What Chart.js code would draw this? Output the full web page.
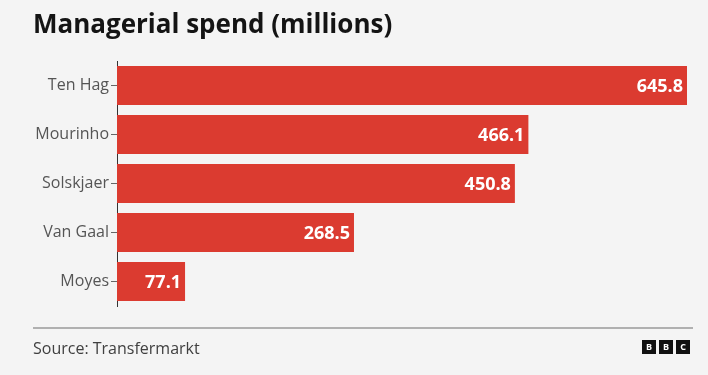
<!DOCTYPE html>
<html>
<head>
<meta charset="utf-8">
<script src="https://cdn.jsdelivr.net/npm/chart.js@4"></script>
<style>
  html,body{margin:0;padding:0;background:#f4f4f4;}
  #wrap{position:relative;width:708px;height:375px;overflow:hidden;background:#f4f4f4;font-family:"Open Sans",sans-serif;}
  #title{position:absolute;left:33px;top:5px;font-size:26px;font-weight:700;color:#141414;white-space:nowrap;}
  #rule{position:absolute;left:33px;top:327px;width:660px;height:0;border-top:2px solid #b0b0b0;}
  #source{position:absolute;left:33px;top:337px;font-size:16px;color:#404040;white-space:nowrap;}
  #logo{position:absolute;left:642px;top:340px;display:flex;gap:3px;}
  #logo span{display:block;width:14px;height:14px;background:#111;color:#fff;font:700 9px "Open Sans",sans-serif;line-height:14px;text-align:center;}
  canvas{position:absolute;left:0;top:0;}
</style>
</head>
<body>
<div id="wrap">
  <canvas id="c" width="708" height="375"></canvas>
  <div id="title">Managerial spend (millions)</div>
  <div id="rule"></div>
  <div id="source">Source: Transfermarkt</div>
  <div id="logo"><span>B</span><span>B</span><span>C</span></div>
</div>
<script>
const managers = ["Ten Hag", "Mourinho", "Solskjaer", "Van Gaal", "Moyes"];
const spend = [645.8, 466.1, 450.8, 268.5, 77.1];

const valueLabels = {
  id: 'valueLabels',
  afterDatasetsDraw(chart) {
    const ctx = chart.ctx;
    const meta = chart.getDatasetMeta(0);
    ctx.save();
    ctx.fillStyle = '#ffffff';
    ctx.font = '700 18px "Open Sans", sans-serif';
    ctx.textAlign = 'right';
    ctx.textBaseline = 'middle';
    meta.data.forEach((bar, i) => {
      ctx.fillText(spend[i].toFixed(1), bar.x - 4, bar.y + 1);
    });
    ctx.restore();
  }
};

new Chart(document.getElementById('c'), {
  type: 'bar',
  data: {
    labels: managers,
    datasets: [{
      data: spend,
      backgroundColor: '#db3b30',
      borderWidth: 0,
      barPercentage: 0.8,
      categoryPercentage: 1.0
    }]
  },
  options: {
    indexAxis: 'y',
    responsive: false,
    animation: false,
    devicePixelRatio: 1,
    layout: { padding: { top: 61, bottom: 69, left: 0, right: 21 } },
    plugins: { legend: { display: false }, tooltip: { enabled: false }, title: { display: false } },
    scales: {
      x: { display: false, min: 0, max: 645.8 },
      y: {
        afterFit(scale) { scale.width = 117; },
        grid: { offset: false, drawOnChartArea: false, drawTicks: true, tickLength: 6, color: '#666', tickWidth: 1 },
        border: { display: true, color: '#333', width: 1 },
        ticks: { color: '#555', padding: 2, font: { family: '"Open Sans", sans-serif', size: 16 } }
      }
    }
  },
  plugins: [valueLabels]
});
</script>
</body>
</html>
